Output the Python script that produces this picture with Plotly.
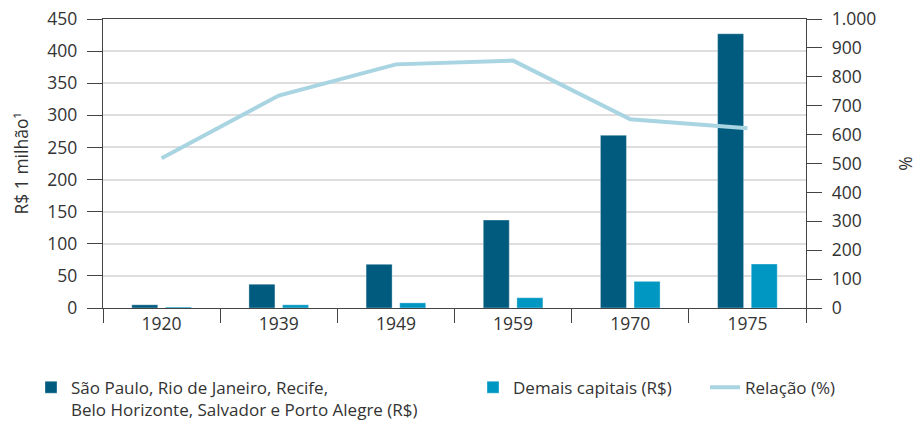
import plotly.graph_objects as go

anos = ["1920", "1939", "1949", "1959", "1970", "1975"]
capitais_principais = [5, 37, 68, 137, 269, 427]
demais_capitais = [1.5, 5, 8, 16, 41.5, 68.5]
relacao = [518, 735, 843, 856, 653, 622]

nome1 = "São Paulo, Rio de Janeiro, Recife,<br>Belo Horizonte, Salvador e Porto Alegre (R$)"
nome2 = "Demais capitais (R$)"
nome3 = "Relação (%)"

FONT = "Open Sans"
FS = 17.5
LFS = 17
TXT = "#333333"

fig = go.Figure()
fig.add_trace(go.Bar(
    x=anos, y=capitais_principais, name=nome1,
    marker=dict(color="#005b7f", line=dict(color="rgba(255,255,255,0.35)", width=1)),
    legend="legend",
))
fig.add_trace(go.Bar(
    x=anos, y=demais_capitais, name=nome2,
    marker=dict(color="#0097c3", line=dict(color="rgba(255,255,255,0.35)", width=1)),
    legend="legend2",
))
fig.add_trace(go.Scatter(
    x=anos, y=relacao, name=nome3, yaxis="y2", mode="lines",
    line=dict(color="#a9d4e2", width=4),
    legend="legend3",
))

legend_common = dict(
    orientation="h", yanchor="top", y=0.124, xanchor="left",
    xref="container", yref="container",
    font=dict(family=FONT, size=LFS, color=TXT), bgcolor="rgba(0,0,0,0)",
    traceorder="normal",
)

fig.update_layout(
    width=917, height=422,
    margin=dict(l=103, r=111, t=19, b=114),
    paper_bgcolor="white", plot_bgcolor="white",
    font=dict(family=FONT, size=FS, color=TXT),
    showlegend=True,
    barmode="group", bargap=0.426, bargroupgap=0.226,
    xaxis=dict(
        type="category", tickson="boundaries", ticks="outside", ticklen=14,
        tickcolor="#444", tickwidth=1.3, showline=True, linecolor="#444", linewidth=1.3,
        mirror=True, showgrid=False, automargin=False,
        tickfont=dict(family=FONT, size=FS, color=TXT),
    ),
    yaxis=dict(
        range=[0, 450], dtick=50, ticks="outside", ticklen=15, tickcolor="#444", tickwidth=1.3,
        showline=True, linecolor="#444", linewidth=1.3, automargin=False,
        showgrid=True, gridcolor="#dedede", gridwidth=1.5, zeroline=False,
        ticklabelstandoff=6,
        title=dict(text="R$ 1 milhão¹", font=dict(family=FONT, size=FS, color=TXT), standoff=14),
        tickfont=dict(family=FONT, size=FS, color=TXT),
    ),
    yaxis2=dict(
        range=[0, 1000], dtick=100, overlaying="y", side="right",
        ticks="outside", ticklen=15, tickcolor="#444", tickwidth=1.3, automargin=False,
        showline=True, linecolor="#444", linewidth=1.3, showgrid=False, zeroline=False,
        tickformat=",d", separatethousands=True, ticklabelstandoff=6,
        title=dict(text="%", font=dict(family=FONT, size=FS, color=TXT), standoff=26),
        tickfont=dict(family=FONT, size=FS, color=TXT),
    ),
    separators=",.",
    legend=dict(legend_common, x=31 / 917, valign="top"),
    legend2=dict(legend_common, x=473 / 917),
    legend3=dict(legend_common, x=705 / 917),
)

fig.write_html(
    "out.html",
    config={"displayModeBar": False},
    post_script="document.body.style.margin='0';",
)
